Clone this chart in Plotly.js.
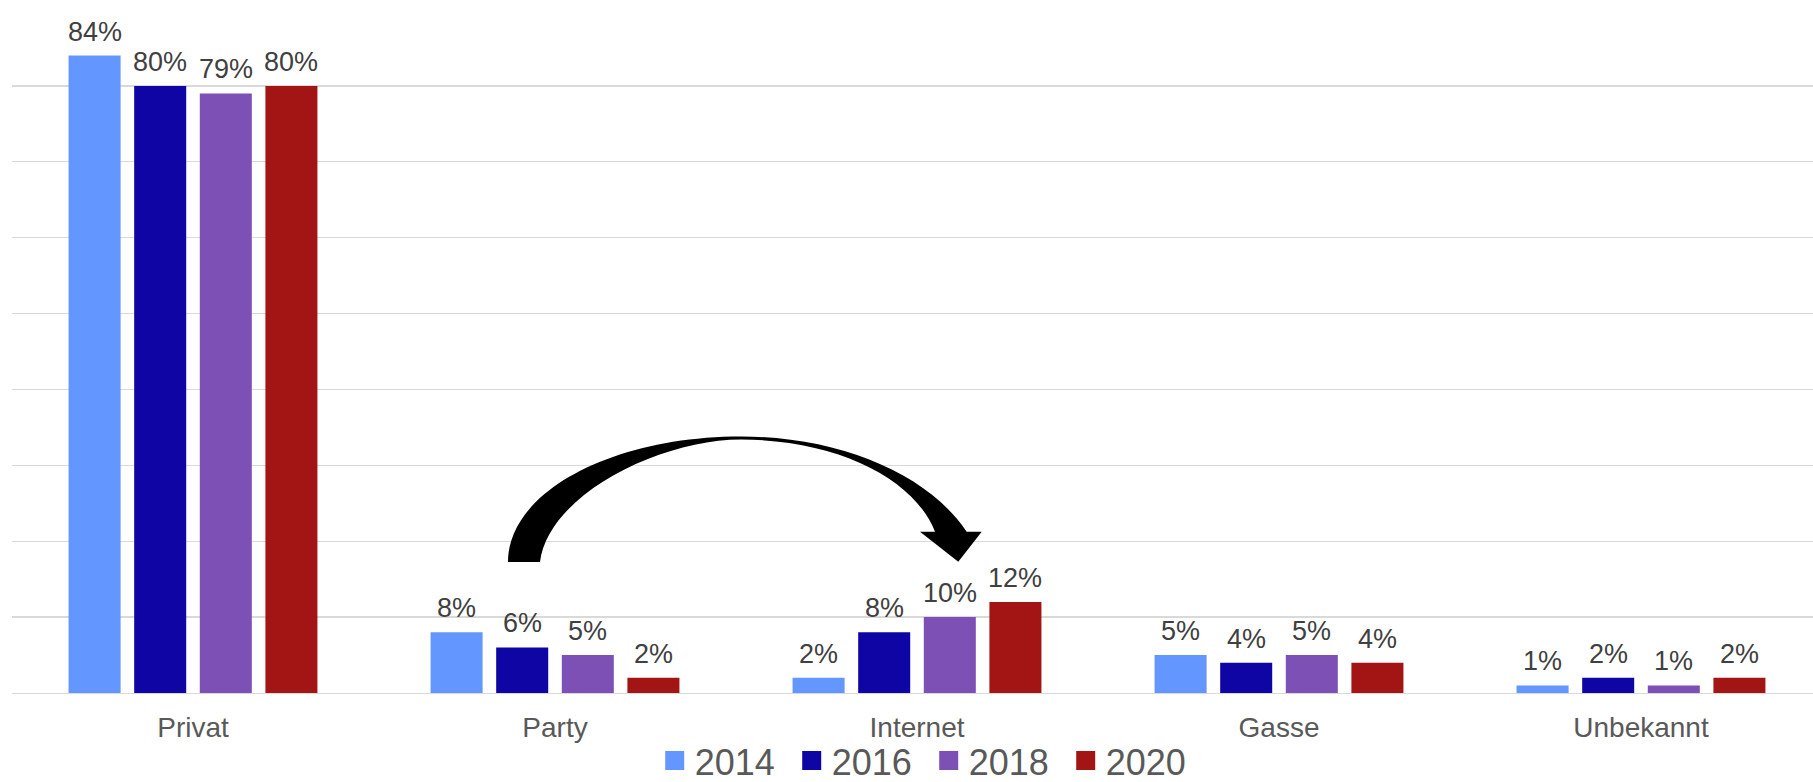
<!DOCTYPE html>
<html>
<head>
<meta charset="utf-8">
<script src="https://cdn.plot.ly/plotly-3.0.1.min.js"></script>
<style>
  html, body { margin: 0; padding: 0; background: #ffffff; }
  #chart { width: 1813px; height: 782px; }
</style>
</head>
<body>
<div id="chart"></div>
<script>
// ---- Data ----
const categories = ["Privat", "Party", "Internet", "Gasse", "Unbekannt"];
const years = ["2014", "2016", "2018", "2020"];
const values2014 = [84, 8, 2, 5, 1];
const values2016 = [80, 6, 8, 4, 2];
const values2018 = [79, 5, 10, 5, 1];
const values2020 = [80, 2, 12, 4, 2];
const seriesValues = [values2014, values2016, values2018, values2020];
const seriesColors = ["#6496FF", "#0F05A5", "#7D50B6", "#A31515"];

// ---- Layout geometry ----
const W = 1813, H = 782;
const margin = { l: 12, r: 0, t: 10, b: 89, pad: 0, autoexpand: false };
const plotW = W - margin.l - margin.r;
const plotH = H - margin.t - margin.b;
const catWidthPx = 362;
const bargap = 0.275;
const bargroupgap = 0.207;
const slotPx = (1 - bargap) * catWidthPx / years.length;

const labelFont = { family: "Liberation Sans, Arial, sans-serif", size: 27, color: "#404040" };

// pixel -> paper conversion for decorative arrow
function px(x) { return ((x - margin.l) / plotW).toFixed(5); }
function py(y) { return ((H - margin.b - y) / plotH).toFixed(5); }
function P(x, y) { return px(x) + "," + py(y); }

const arrowPath =
  "M" + P(508, 562) +
  " C" + P(508, 492) + " " + P(612, 436.5) + " " + P(741, 436.5) +
  " C" + P(840, 436.5) + " " + P(928, 474) + " " + P(966.7, 531.7) +
  " L" + P(981.7, 531.7) +
  " L" + P(958.3, 561.7) +
  " L" + P(920, 531.7) +
  " L" + P(935, 531.7) +
  " C" + P(915, 480) + " " + P(840, 440) + " " + P(741, 439.5) +
  " C" + P(660, 439.5) + " " + P(548, 495) + " " + P(540, 562) +
  " Z";

const traces = [];
years.forEach(function (yr, i) {
  traces.push({
    type: "bar",
    name: yr,
    x: categories,
    y: seriesValues[i],
    marker: { color: seriesColors[i] },
    hoverinfo: "x+y",
    showlegend: false,
    legendgroup: yr
  });
});
years.forEach(function (yr, i) {
  traces.push({
    type: "scatter",
    mode: "markers",
    name: yr,
    x: [null],
    y: [null],
    marker: { symbol: "square", size: 16, color: seriesColors[i], line: { color: seriesColors[i], width: 3 } },
    showlegend: true,
    legendgroup: yr,
    hoverinfo: "skip"
  });
});

// value labels above each bar, anchored at the bar's data value
const annotations = [];
years.forEach(function (yr, i) {
  categories.forEach(function (cat, j) {
    annotations.push({
      x: cat,
      y: seriesValues[i][j],
      xref: "x",
      yref: "y",
      text: seriesValues[i][j] + "%",
      showarrow: false,
      xanchor: "center",
      yanchor: "bottom",
      xshift: (i - (years.length - 1) / 2) * slotPx,
      yshift: 7,
      font: labelFont
    });
  });
});

const layout = {
  width: W,
  height: H,
  margin: margin,
  paper_bgcolor: "#ffffff",
  plot_bgcolor: "#ffffff",
  barmode: "group",
  bargap: bargap,
  bargroupgap: bargroupgap,
  showlegend: true,
  font: { family: "Liberation Sans, Arial, sans-serif", color: "#595959" },
  xaxis: {
    type: "category",
    range: [-0.5, -0.5 + plotW / catWidthPx],
    showgrid: false,
    showline: true,
    linecolor: "#d9d9d9",
    linewidth: 1.3,
    ticks: "",
    ticklabelstandoff: 9,
    tickfont: { family: "Liberation Sans, Arial, sans-serif", size: 28, color: "#595959" },
    zeroline: false,
    fixedrange: true
  },
  yaxis: {
    range: [0, 90],
    dtick: 10,
    tick0: 0,
    showgrid: true,
    gridcolor: "#d9d9d9",
    gridwidth: 1.3,
    showticklabels: false,
    ticks: "",
    zeroline: false,
    showline: false,
    fixedrange: true
  },
  legend: {
    orientation: "h",
    x: 0.509,
    xanchor: "center",
    y: -0.099,
    yanchor: "middle",
    entrywidth: 92,
    font: { family: "Liberation Sans, Arial, sans-serif", size: 36, color: "#595959" },
    bgcolor: "rgba(0,0,0,0)",
    itemclick: false,
    itemdoubleclick: false
  },
  annotations: annotations,
  shapes: [
    {
      type: "path",
      xref: "paper",
      yref: "paper",
      path: arrowPath,
      fillcolor: "#000000",
      line: { width: 0 },
      layer: "above"
    }
  ]
};

Plotly.newPlot("chart", traces, layout, { displayModeBar: false, staticPlot: true });
</script>
</body>
</html>
